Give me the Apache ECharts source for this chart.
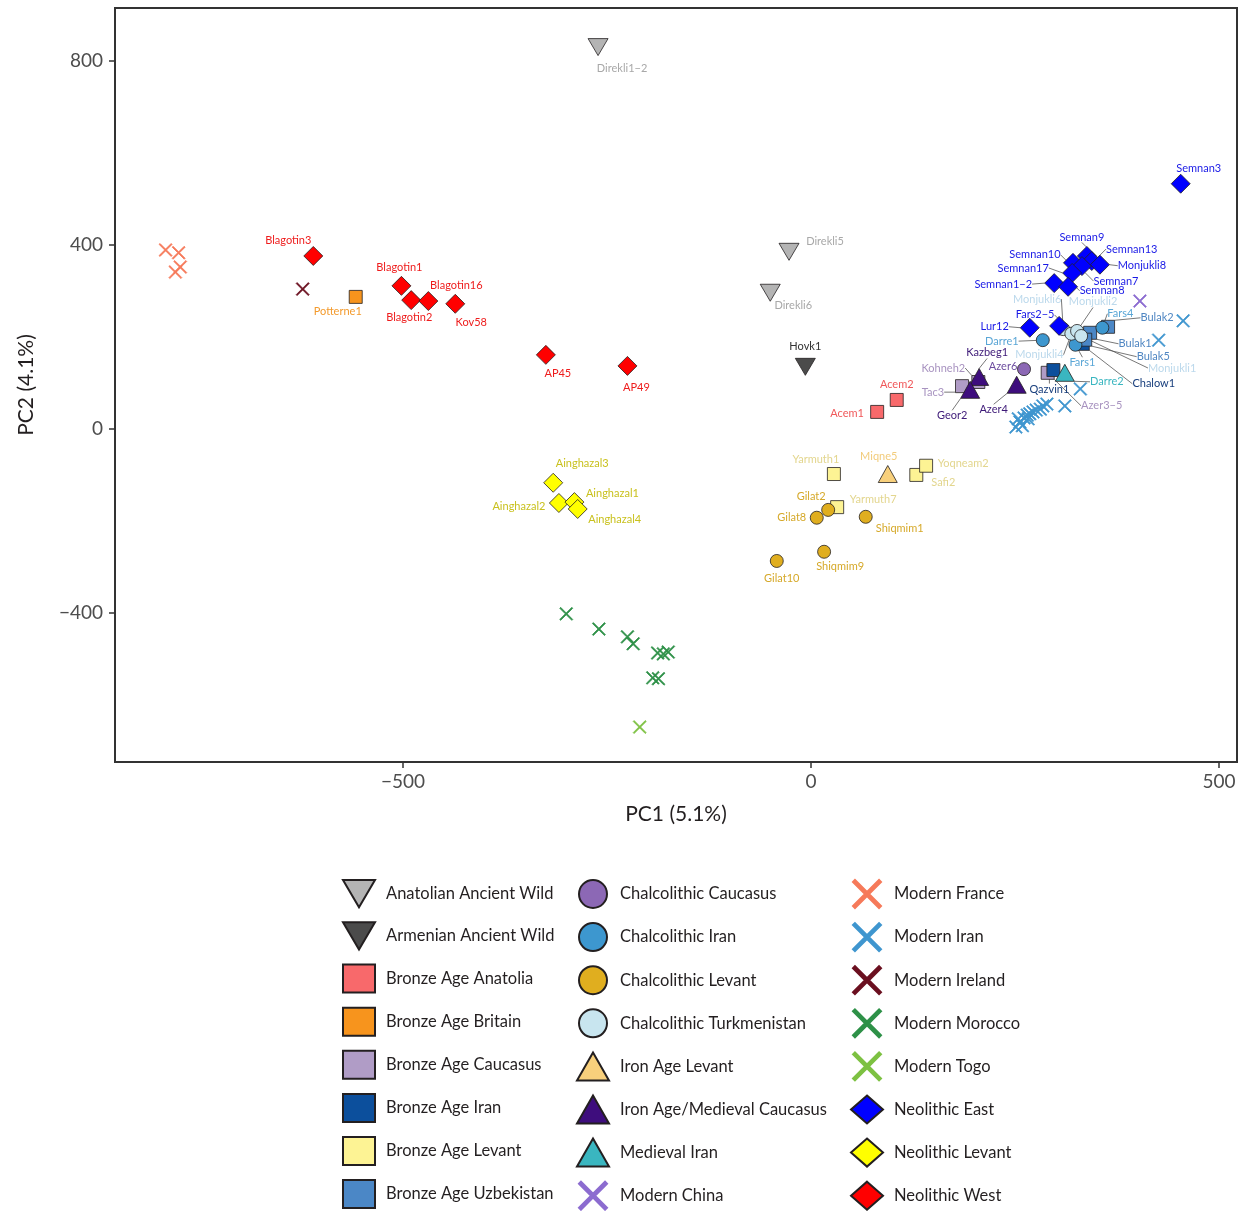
<!DOCTYPE html>
<html>
<head>
<meta charset="utf-8">
<script src="https://cdn.jsdelivr.net/npm/echarts@6/dist/echarts.min.js"></script>
<style>
html,body{margin:0;padding:0;background:#fff;}
#chart{width:1247px;height:1211px;}
</style>
</head>
<body>
<div id="chart"></div>
<script>
// ---------- DATA: [PC1, PC2, label] ----------
const anatolianAncientWild = [[-261, 830, 'Direkli1\u22122'], [-27, 385, 'Direkli5'], [-50, 296, 'Direkli6']];
const armenianAncientWild = [[-7, 135, 'Hovk1']];
const bronzeAgeAnatolia = [[81, 37, 'Acem1'], [105, 63, 'Acem2']];
const bronzeAgeBritain = [[-558, 287, 'Potterne1']];
const bronzeAgeCaucasus = [[185, 93, 'Tac3'], [205, 102, 'Kohneh2'], [290, 122, 'Azer3\u22125']];
const bronzeAgeIran = [[297, 128, 'Qazvin1'], [333, 185, 'Chalow1']];
const bronzeAgeLevant = [[28, -98, 'Yarmuth1'], [32, -170, 'Yarmuth7'], [129, -100, 'Safi2'], [141, -80, 'Yoqneam2']];
const bronzeAgeUzbekistan = [[364, 222, 'Bulak2'], [342, 209, 'Bulak1'], [336, 194, 'Bulak5']];
const chalcolithicCaucasus = [[261, 130, 'Azer6']];
const chalcolithicIran = [[284, 193, 'Darre1'], [324, 183, 'Fars1'], [357, 220, 'Fars4']];
const chalcolithicLevant = [[21, -176, 'Gilat2'], [7, -193, 'Gilat8'], [67, -191, 'Shiqmim1'], [16, -267, 'Shiqmim9'], [-42, -287, 'Gilat10']];
const chalcolithicTurkmenistan = [[309, 217, 'Monjukli6'], [319, 207, 'Monjukli4'], [326, 213, 'Monjukli2'], [331, 202, 'Monjukli1']];
const ironAgeLevant = [[94, -98, 'Miqne5']];
const ironAgeMedievalCaucasus = [[206, 113, 'Kazbeg1'], [195, 85, 'Geor2'], [252, 96, 'Azer4']];
const medievalIran = [[311, 122, 'Darre2']];
const modernChina = [[403, 278, '']];
const modernFrance = [[-791, 389, ''], [-775, 383, ''], [-773, 352, ''], [-779, 341, '']];
const modernIran = [[456, 235, ''], [426, 193, ''], [330, 87, ''], [311, 50, ''], [251, 4, ''], [256, 15, ''], [261, 24, ''], [265, 30, ''], [268, 33, ''], [272, 37, ''], [276, 41, ''], [281, 43, ''], [284, 50, ''], [289, 54, ''], [259, 7, ''], [266, 22, ''], [254, 22, '']];
const modernIreland = [[-623, 304, '']];
const modernMorocco = [[-300, -402, ''], [-260, -435, ''], [-225, -452, ''], [-218, -467, ''], [-188, -487, ''], [-181, -489, ''], [-175, -485, ''], [-194, -541, ''], [-187, -543, '']];
const modernTogo = [[-210, -648, '']];
const neolithicEast = [[453, 533, 'Semnan3'], [338, 376, 'Semnan9'], [344, 365, 'Semnan13'], [354, 357, 'Monjukli8'], [321, 361, 'Semnan10'], [332, 354, 'Semnan7'], [320, 339, 'Semnan17'], [298, 317, 'Semnan1\u22122'], [315, 309, 'Semnan8'], [304, 224, 'Fars2\u22125'], [268, 220, 'Lur12']];
const neolithicLevant = [[-316, -117, 'Ainghazal3'], [-309, -161, 'Ainghazal2'], [-290, -159, 'Ainghazal1'], [-286, -174, 'Ainghazal4']];
const neolithicWest = [[-610, 376, 'Blagotin3'], [-502, 311, 'Blagotin1'], [-490, 280, 'Blagotin2'], [-469, 278, 'Blagotin16'], [-436, 272, 'Kov58'], [-325, 161, 'AP45'], [-225, 137, 'AP49']];

const xTicks = [-500, 0, 500];
const yTicks = [-400, 0, 400, 800];

// ---------- LAYOUT: label offsets in pixels (label centre relative to point) ----------
const labelOffsets = {
  'Direkli1\u22122': [24, 21], 'Direkli5': [36, -10], 'Direkli6': [23, 13], 'Hovk1': [0, -20],
  'Acem1': [-30, 2], 'Acem2': [0, -15], 'Potterne1': [-18, 15],
  'Blagotin3': [-25, -16], 'Blagotin1': [-2, -18], 'Blagotin2': [-2, 17], 'Blagotin16': [28, -16], 'Kov58': [16, 19],
  'AP45': [12, 19], 'AP49': [9, 22],
  'Ainghazal3': [29, -19], 'Ainghazal2': [-40, 3], 'Ainghazal1': [38, -9], 'Ainghazal4': [37, 10],
  'Yarmuth1': [-18, -15], 'Miqne5': [-9, -18], 'Safi2': [27, 8], 'Yoqneam2': [37, -2],
  'Gilat2': [-17, -13], 'Yarmuth7': [36, -8], 'Gilat8': [-25, 0], 'Shiqmim1': [34, 12], 'Shiqmim9': [16, 15], 'Gilat10': [5, 17],
  'Semnan3': [18, -15],
  'Semnan9': [-5, -19], 'Semnan13': [40, -12], 'Monjukli8': [42, 1], 'Semnan10': [-38, -8], 'Semnan17': [-49, -5],
  'Semnan7': [34, 15], 'Semnan1\u22122': [-51, 1], 'Semnan8': [34, 4],
  'Monjukli6': [-26, -30], 'Monjukli2': [16, -29], 'Fars4': [18, -14], 'Bulak2': [49, -9], 'Fars2\u22125': [-24, -11],
  'Lur12': [-35, -1], 'Darre1': [-41, 1], 'Bulak1': [45, 11], 'Monjukli4': [-32, 21], 'Bulak5': [68, 17],
  'Fars1': [7, 18], 'Monjukli1': [91, 32], 'Chalow1': [71, 40], 'Darre2': [42, 9], 'Qazvin1': [-4, 19],
  'Azer3\u22125': [54, 33], 'Azer6': [-21, -3], 'Kazbeg1': [8, -24], 'Kohneh2': [-35, -14], 'Tac3': [-29, 6],
  'Geor2': [-18, 26], 'Azer4': [-23, 25]
};
const leaderLabels = ['Semnan9', 'Semnan13', 'Monjukli8', 'Semnan10', 'Semnan17', 'Semnan7', 'Semnan1\u22122', 'Semnan8',
  'Monjukli6', 'Monjukli2', 'Fars4', 'Bulak2', 'Fars2\u22125', 'Lur12', 'Darre1', 'Bulak1', 'Monjukli4', 'Bulak5',
  'Fars1', 'Monjukli1', 'Chalow1', 'Darre2', 'Qazvin1', 'Azer3\u22125', 'Kazbeg1', 'Kohneh2', 'Tac3', 'Geor2', 'Azer4'];

const DOWN = 'path://M0,0 L20,0 L10,17 Z';
const CROSS = 'path://M0,7 L7,0 L50,43 L93,0 L100,7 L57,50 L100,93 L93,100 L50,57 L7,100 L0,93 L43,50 Z';

const groups = [
  { name: 'Anatolian Ancient Wild', data: anatolianAncientWild, symbol: DOWN, size: [20, 17], color: '#b4b4b4', label: '#a8a8a8' },
  { name: 'Armenian Ancient Wild', data: armenianAncientWild, symbol: DOWN, size: [20, 17], color: '#4b4b4b', label: '#333333' },
  { name: 'Bronze Age Anatolia', data: bronzeAgeAnatolia, symbol: 'rect', size: 13, color: '#f8696b', label: '#f0585a' },
  { name: 'Bronze Age Britain', data: bronzeAgeBritain, symbol: 'rect', size: 13, color: '#f7941d', label: '#f39a2c' },
  { name: 'Bronze Age Caucasus', data: bronzeAgeCaucasus, symbol: 'rect', size: 13, color: '#b09cc6', label: '#a893c0' },
  { name: 'Bronze Age Iran', data: bronzeAgeIran, symbol: 'rect', size: 13, color: '#0c4f9c', label: '#183e7c' },
  { name: 'Bronze Age Levant', data: bronzeAgeLevant, symbol: 'rect', size: 13, color: '#fdf394', label: '#e3d68e' },
  { name: 'Bronze Age Uzbekistan', data: bronzeAgeUzbekistan, symbol: 'rect', size: 13, color: '#4b87c6', label: '#4f86c2' },
  { name: 'Chalcolithic Caucasus', data: chalcolithicCaucasus, symbol: 'circle', size: 13, color: '#8c68b5', label: '#6c4c9e' },
  { name: 'Chalcolithic Iran', data: chalcolithicIran, symbol: 'circle', size: 13, color: '#3d97cf', label: '#5aa6d6' },
  { name: 'Chalcolithic Levant', data: chalcolithicLevant, symbol: 'circle', size: 13, color: '#e0ae1f', label: '#d6a92a' },
  { name: 'Chalcolithic Turkmenistan', data: chalcolithicTurkmenistan, symbol: 'circle', size: 13, color: '#c8e5ef', label: '#bcd9ec' },
  { name: 'Iron Age Levant', data: ironAgeLevant, symbol: 'triangle', size: [19, 17], color: '#f8d07c', label: '#f2cc7c' },
  { name: 'Iron Age/Medieval Caucasus', data: ironAgeMedievalCaucasus, symbol: 'triangle', size: [19, 17], color: '#3e0d7d', label: '#3e1a78' },
  { name: 'Medieval Iran', data: medievalIran, symbol: 'triangle', size: [19, 17], color: '#3ab6c0', label: '#3ab6c0' },
  { name: 'Modern China', data: modernChina, symbol: CROSS, size: 13, color: '#8c6cd0', label: '#8c6cd0', cross: true },
  { name: 'Modern France', data: modernFrance, symbol: CROSS, size: 13, color: '#f67a5a', label: '#f67a5a', cross: true },
  { name: 'Modern Iran', data: modernIran, symbol: CROSS, size: 13, color: '#3f96cf', label: '#3f96cf', cross: true },
  { name: 'Modern Ireland', data: modernIreland, symbol: CROSS, size: 13, color: '#6b1020', label: '#6b1020', cross: true },
  { name: 'Modern Morocco', data: modernMorocco, symbol: CROSS, size: 13, color: '#2e9148', label: '#2e9148', cross: true },
  { name: 'Modern Togo', data: modernTogo, symbol: CROSS, size: 13, color: '#7dc142', label: '#7dc142', cross: true },
  { name: 'Neolithic East', data: neolithicEast, symbol: 'diamond', size: 19, color: '#0000ff', label: '#1a1ae6' },
  { name: 'Neolithic Levant', data: neolithicLevant, symbol: 'diamond', size: 19, color: '#ffff00', label: '#c9c11e' },
  { name: 'Neolithic West', data: neolithicWest, symbol: 'diamond', size: 19, color: '#ff0000', label: '#ee1c1c' }
];

const FONT = 'Lato, "Open Sans", sans-serif';
const fmtMinus = v => String(v).replace('-', '\u2212');

const series = groups.map(g => ({
  type: 'scatter',
  name: g.name,
  symbol: g.symbol,
  symbolSize: g.size,
  itemStyle: g.cross ? { color: g.color, borderColor: g.color, borderWidth: 0.8, opacity: 1 } : { color: g.color, borderColor: '#231f20', borderWidth: 0.8, opacity: 1 },
  label: { show: true, formatter: '{b}', fontSize: 11, fontFamily: FONT, color: g.label, position: 'inside' },
  labelLine: { show: false },
  labelLayout: function (p) {
    const off = labelOffsets[p.text];
    if (!off) return {};
    return { x: p.rect.x + p.rect.width / 2 + off[0], y: p.rect.y + p.rect.height / 2 + off[1], align: 'center', verticalAlign: 'middle' };
  },
  emphasis: { disabled: true },
  data: g.data.map(d => ({
    name: d[2],
    value: [d[0], d[1]],
    labelLine: leaderLabels.indexOf(d[2]) >= 0 ? { show: true, lineStyle: { color: '#555', width: 0.8 } } : { show: false }
  }))
}));

function legendCol(names, left) {
  return {
    orient: 'vertical', left: left, top: 879, padding: 0, height: 380,
    itemWidth: 32, itemHeight: 28, itemGap: 13.1,
    selectedMode: false,
    textStyle: { fontSize: 16.5, color: '#231f20', fontFamily: FONT, padding: [0, 0, 0, 6] },
    data: names
  };
}
const names = groups.map(g => g.name);

const chart = echarts.init(document.getElementById('chart'), null, { renderer: 'canvas' });
chart.setOption({
  animation: false,
  backgroundColor: '#ffffff',
  grid: { left: 115, top: 8, right: 10, bottom: 449, show: true, borderColor: '#333', borderWidth: 2, backgroundColor: 'transparent' },
  xAxis: {
    type: 'value', min: -853, max: 522,
    name: 'PC1 (5.1%)', nameLocation: 'middle', nameGap: 42,
    nameTextStyle: { fontSize: 21, color: '#231f20', fontFamily: FONT },
    axisLine: { show: true, onZero: false, lineStyle: { color: '#333', width: 2 } },
    axisTick: { show: true, length: 6, customValues: xTicks, lineStyle: { color: '#333', width: 1.5 } },
    axisLabel: { customValues: xTicks, formatter: fmtMinus, fontSize: 19, color: '#4d4d4d', fontFamily: FONT, margin: 10 },
    splitLine: { show: false }
  },
  yAxis: {
    type: 'value', min: -724, max: 915,
    name: 'PC2 (4.1%)', nameLocation: 'middle', nameGap: 78,
    nameTextStyle: { fontSize: 21, color: '#231f20', fontFamily: FONT },
    axisLine: { show: true, onZero: false, lineStyle: { color: '#333', width: 2 } },
    axisTick: { show: true, length: 6, customValues: yTicks, lineStyle: { color: '#333', width: 1.5 } },
    axisLabel: { customValues: yTicks, formatter: fmtMinus, fontSize: 19, color: '#4d4d4d', fontFamily: FONT, margin: 12 },
    splitLine: { show: false }
  },
  legend: [
    legendCol(names.slice(0, 8), 342),
    legendCol(names.slice(8, 16), 576),
    legendCol(names.slice(16, 24), 850)
  ],
  series: series
});
</script>
</body>
</html>
